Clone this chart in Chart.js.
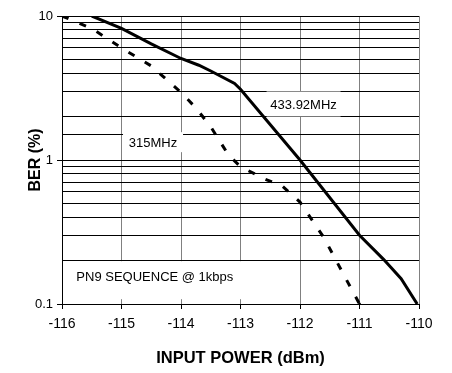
<!DOCTYPE html>
<html lang="en">
<head>
<meta charset="UTF-8">
<title>BER vs input power</title>
<script src="https://cdn.jsdelivr.net/npm/chart.js"></script>
<style>
  html, body { margin: 0; padding: 0; background: #fff; }
  #wrap { width: 452px; height: 373px; }
</style>
</head>
<body>
<div id="wrap"><canvas id="ber-chart" width="452" height="373"></canvas></div>
<script>
// 433.92MHz curve (solid)
const power433 = [-115.5, -115, -114.5, -114, -113.7, -113.5, -113.1, -113, -112, -111, -110.6, -110.3, -110.03];
const ber433 = [10, 8.2, 6.4, 5.07, 4.55, 4.15, 3.4, 3.1, 1.0, 0.3, 0.205, 0.15, 0.1];

// 315MHz curve (dashed)
const power315 = [-116, -115.5, -115, -114.5, -114, -113.75, -113.5, -113.2, -113, -112.6, -112.3, -112, -111.6, -111.3, -111];
const ber315 = [10, 8.2, 6.0, 4.5, 2.95, 2.3, 1.7, 1.08, 0.9, 0.74, 0.66, 0.51, 0.29, 0.17, 0.1];

const yLabels = [0.1, 1, 10];

// text boxes on the plot (data coords of text centre, box size and shift in px)
const notes = [
  { text: '433.92MHz', x: -111.94, y: 2.45, w: 74, h: 25, dy: 0 },
  { text: '315MHz', x: -114.47, y: 1.33, w: 60, h: 20, dy: 0 },
  { text: 'PN9 SEQUENCE @ 1kbps', x: -114.44, y: 0.156, w: 180, h: 38, dy: 4 }
];

const FONT = "'Liberation Sans', Arial, sans-serif";

const toPts = (xs, ys) => xs.map((x, i) => ({ x: x, y: ys[i] }));

const notesPlugin = {
  id: 'notes',
  beforeDatasetsDraw(chart) {
    const ctx = chart.ctx;
    const xs = chart.scales.x, ys = chart.scales.y;
    ctx.save();
    ctx.font = '13px ' + FONT;
    ctx.textAlign = 'center';
    ctx.textBaseline = 'middle';
    notes.forEach(n => {
      const px = xs.getPixelForValue(n.x);
      const py = ys.getPixelForValue(n.y);
      ctx.fillStyle = '#fff';
      ctx.fillRect(px - n.w / 2, py + n.dy - n.h / 2, n.w, n.h);
      ctx.fillStyle = '#000';
      ctx.fillText(n.text, px, py + 1);
    });
    ctx.restore();
  }
};

new Chart(document.getElementById('ber-chart'), {
  type: 'scatter',
  data: {
    datasets: [
      {
        label: '433.92MHz',
        data: toPts(power433, ber433),
        showLine: true,
        borderColor: '#000',
        borderWidth: 3,
        pointRadius: 0,
        tension: 0
      },
      {
        label: '315MHz',
        data: toPts(power315, ber315),
        showLine: true,
        borderColor: '#000',
        borderWidth: 3,
        borderDash: [7, 12],
        borderCapStyle: 'butt',
        pointRadius: ctx => ctx.dataIndex === power315.length - 1 ? 1.5 : 0,
        pointBackgroundColor: '#000',
        pointBorderWidth: 0,
        tension: 0
      }
    ]
  },
  options: {
    responsive: false,
    animation: false,
    layout: { padding: { top: 16, right: 33, left: 0, bottom: 0 } },
    plugins: {
      legend: { display: false },
      tooltip: { enabled: false }
    },
    scales: {
      x: {
        type: 'linear',
        min: -116,
        max: -110,
        afterFit(scale) { scale.height = 69; },
        ticks: {
          stepSize: 1,
          color: '#000',
          padding: 7,
          font: { family: FONT, size: 14 }
        },
        grid: {
          color: '#808080',
          lineWidth: 1,
          tickColor: '#000',
          tickLength: 5
        },
        border: { color: '#000', width: 1 },
        title: {
          display: true,
          text: 'INPUT POWER (dBm)',
          color: '#000',
          font: { family: FONT, size: 16.5, weight: 'bold' },
          padding: { top: 0, bottom: 5 }
        }
      },
      y: {
        type: 'logarithmic',
        min: 0.1,
        max: 10,
        afterFit(scale) { scale.width = 62; },
        ticks: {
          autoSkip: false,
          color: '#000',
          padding: 4,
          font: { family: FONT, size: 13 },
          callback: v => yLabels.some(l => Math.abs(l - v) < 1e-9) ? String(v) : ''
        },
        grid: {
          color: '#000',
          lineWidth: 1,
          tickLength: 5,
          tickColor: ctx => {
            const v = ctx.tick ? ctx.tick.value : null;
            return yLabels.some(l => Math.abs(l - v) < 1e-9) ? '#000' : 'rgba(0,0,0,0)';
          }
        },
        border: { color: '#000', width: 1 },
        title: {
          display: true,
          text: 'BER (%)',
          color: '#000',
          font: { family: FONT, size: 16, weight: 'bold' },
          padding: { top: 26, bottom: 0 }
        }
      }
    }
  },
  plugins: [notesPlugin]
});
</script>
</body>
</html>
